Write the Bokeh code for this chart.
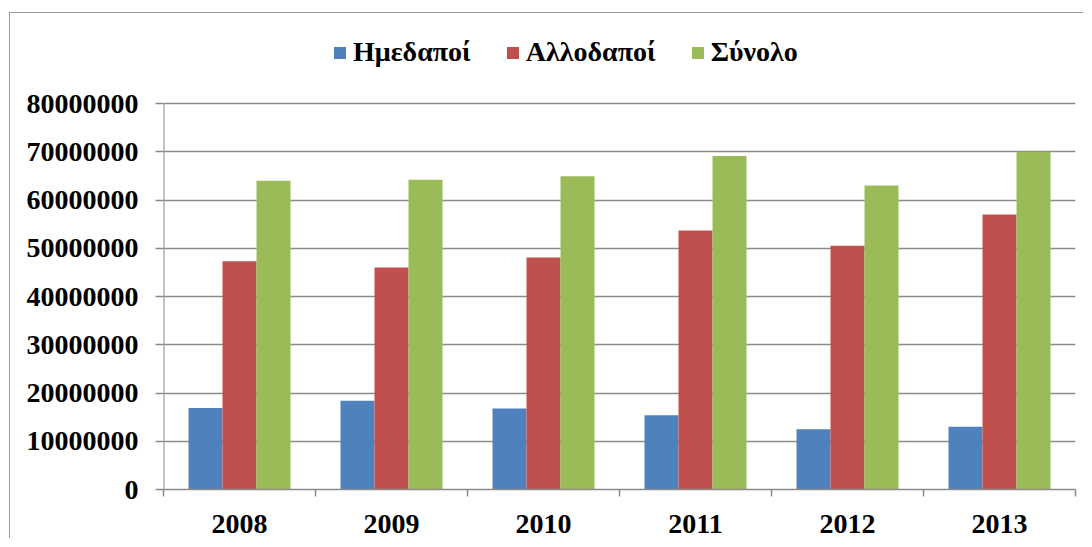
from bokeh.plotting import figure
from bokeh.models import (ColumnDataSource, FixedTicker, Legend, LegendItem,
                          NumeralTickFormatter, Range1d)
from bokeh.transform import dodge
from bokeh.embed import file_html
from bokeh.resources import INLINE

# ---- data ----
years = ["2008", "2009", "2010", "2011", "2012", "2013"]
domestic = [16900000, 18400000, 16800000, 15400000, 12500000, 13000000]   # Ημεδαποί
foreign = [47300000, 46000000, 48100000, 53700000, 50500000, 57000000]    # Αλλοδαποί
total = [64000000, 64200000, 64900000, 69100000, 63000000, 70000000]      # Σύνολο
series_names = ["Ημεδαποί", "Αλλοδαποί", "Σύνολο"]
y_ticks = [0, 10000000, 20000000, 30000000, 40000000, 50000000, 60000000, 70000000, 80000000]

colors = ["#4F81BD", "#C0504D", "#9BBB59"]
FONT = "Liberation Serif"
GRID = "#8a8a8a"

W, H = 1074, 526
MB_TOP, MB_BOTTOM = 17, 50
frame_h = H - MB_TOP - MB_BOTTOM
axis_px = 386  # pixel height of the 0..max-tick span
y_end = y_ticks[-1] * frame_h / axis_px  # extra head room for the legend

idx = list(range(len(years)))
src = ColumnDataSource(dict(idx=idx, domestic=domestic, foreign=foreign, total=total))

p = figure(width=W, height=H, output_backend="svg", toolbar_location=None,
           x_range=Range1d(-0.5, len(years) - 0.5), y_range=Range1d(0, y_end),
           min_border_left=153, min_border_right=9, min_border_top=MB_TOP,
           min_border_bottom=MB_BOTTOM)
p.margin = (12, 0, 0, 9)
p.styles = {"border-left": "1px solid #9a9a9a", "border-top": "1px solid #9a9a9a"}
p.outline_line_color = None
p.background_fill_color = "white"
p.border_fill_color = "white"

bw = 0.2237
renderers = []
for col, off, c in zip(["domestic", "foreign", "total"], [-bw, 0, bw], colors):
    r = p.vbar(x=dodge("idx", off, range=p.x_range), top=col, width=bw, bottom=0,
               source=src, fill_color=c, line_color=None)
    renderers.append(r)

# x axis
p.xgrid.visible = False
p.xaxis.ticker = FixedTicker(ticks=idx, minor_ticks=[i - 0.5 for i in range(len(years) + 1)])
p.xaxis.major_label_overrides = {i: y for i, y in zip(idx, years)}
p.xaxis.major_tick_out = 0
p.xaxis.major_tick_in = 0
p.xaxis.minor_tick_out = 7
p.xaxis.minor_tick_in = 0
p.xaxis.minor_tick_line_color = GRID
p.xaxis.minor_tick_line_width = 1.5
p.xaxis.axis_line_color = GRID
p.xaxis.axis_line_width = 1.5
p.xaxis.major_label_standoff = 18
p.xaxis.major_label_text_font = FONT
p.xaxis.major_label_text_font_style = "bold"
p.xaxis.major_label_text_font_size = "28px"
p.xaxis.major_label_text_color = "black"

# y axis (axis line drawn only up to the top tick)
p.yaxis.ticker = FixedTicker(ticks=y_ticks)
p.yaxis.formatter = NumeralTickFormatter(format="0")
p.yaxis.major_tick_out = 8
p.yaxis.major_tick_in = 0
p.yaxis.minor_tick_line_color = None
p.yaxis.major_tick_line_color = GRID
p.yaxis.major_tick_line_width = 1.5
p.yaxis.axis_line_color = None
p.yaxis.major_label_standoff = 17
p.yaxis.major_label_text_font = FONT
p.yaxis.major_label_text_font_style = "bold"
p.yaxis.major_label_text_font_size = "28px"
p.yaxis.major_label_text_color = "black"
p.segment(x0=[p.x_range.start], y0=[y_ticks[0]], x1=[p.x_range.start], y1=[y_ticks[-1]],
          line_color=GRID, line_width=2)

p.ygrid.ticker = FixedTicker(ticks=y_ticks)
p.ygrid.grid_line_color = GRID
p.ygrid.grid_line_width = 1.5

legend = Legend(items=[LegendItem(label=n, renderers=[r]) for n, r in zip(series_names, renderers)],
                orientation="horizontal", location=(169, 421),
                label_text_font=FONT, label_text_font_style="bold", label_text_font_size="28px",
                label_text_color="black",
                glyph_width=15, glyph_height=15, spacing=34, label_standoff=6,
                padding=0, margin=0, border_line_color=None, background_fill_alpha=0)
p.add_layout(legend, "center")

open("out.html", "w").write(file_html(p, INLINE))
